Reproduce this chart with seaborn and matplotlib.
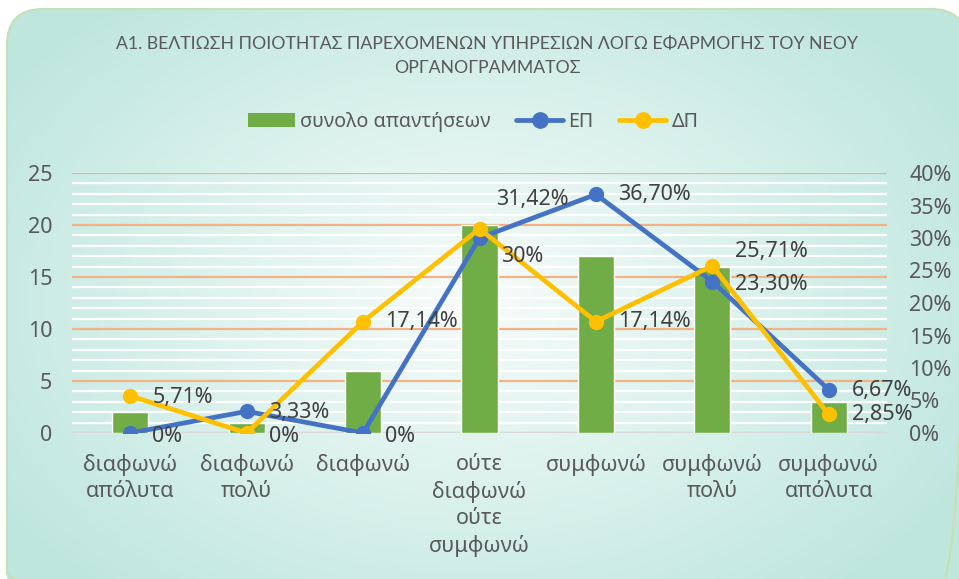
import numpy as np
import pandas as pd
import matplotlib
matplotlib.use("Agg")
import matplotlib.pyplot as plt
import seaborn as sns
from matplotlib.patches import FancyBboxPatch, Patch
from matplotlib.lines import Line2D
from matplotlib.ticker import MultipleLocator, FuncFormatter

# Δεδομένα
categories = [
    "διαφωνώ\nαπόλυτα",
    "διαφωνώ\nπολύ",
    "διαφωνώ",
    "ούτε\nδιαφωνώ\nούτε\nσυμφωνώ",
    "συμφωνώ",
    "συμφωνώ\nπολύ",
    "συμφωνώ\nαπόλυτα",
]
total_answers = [2, 1, 6, 20, 17, 16, 3]
ep_pct = [0, 3.33, 0, 30, 36.70, 23.30, 6.67]
dp_pct = [5.71, 0, 17.14, 31.42, 17.14, 25.71, 2.85]

TITLE = "Α1. ΒΕΛΤΙΩΣΗ ΠΟΙΟΤΗΤΑΣ ΠΑΡΕΧΟΜΕΝΩΝ ΥΠΗΡΕΣΙΩΝ ΛΟΓΩ ΕΦΑΡΜΟΓΗΣ ΤΟΥ ΝΕΟΥ\nΟΡΓΑΝΟΓΡΑΜΜΑΤΟΣ"

BAR_C = "#70AD47"
EP_C = "#4472C4"
DP_C = "#FFC000"
TXT_C = "#595959"
LBL_C = "#404040"
FS = 15.5

sns.set_theme(style="white")
plt.rcParams["font.family"] = ["Noto Sans", "DejaVu Sans"]


def pct_label(v):
    if float(v).is_integer():
        return f"{int(v)}%"
    return f"{v:.2f}".replace(".", ",") + "%"


df = pd.DataFrame({"cat": categories, "total": total_answers,
                   "ep": ep_pct, "dp": dp_pct})
df["pos"] = np.arange(len(df))

fig = plt.figure(figsize=(9.59, 5.79), dpi=100)

# φόντο με διαβάθμιση και στρογγυλεμένο πλαίσιο
bg = fig.add_axes([0, 0, 1, 1])
bg.set_xlim(0, 959)
bg.set_ylim(579, 0)
bg.axis("off")
yy, xx = np.mgrid[0:579, 0:959]
r = np.sqrt(((xx - 470) / 560.0) ** 2 + ((yy - 300) / 380.0) ** 2)
r = np.clip(r, 0, 1)
c_in = np.array([0.97, 0.99, 0.985])
c_out = np.array([0.75, 0.905, 0.87])
grad = c_in[None, None, :] * (1 - r[..., None]) + c_out[None, None, :] * r[..., None]
im = bg.imshow(grad, extent=(0, 959, 579, 0), aspect="auto", zorder=0)
frame = FancyBboxPatch((7, 9), 960, 600, boxstyle="round,pad=0,rounding_size=36",
                       facecolor="none", edgecolor="#C5E0B4", linewidth=1.5, zorder=1)
bg.add_patch(frame)
im.set_clip_path(frame)

ax = fig.add_axes([72 / 959, 1 - 433 / 579, 815 / 959, 260 / 579])
ax.patch.set_alpha(0)
sns.barplot(data=df, x="cat", y="total", color=BAR_C, width=0.31,
            saturation=1, ax=ax, zorder=2)
ax.set_ylim(0, 25)
ax.set_xlim(-0.5, len(df) - 0.5)
ax.yaxis.set_major_locator(MultipleLocator(5))
ax.yaxis.set_minor_locator(MultipleLocator(1))
ax.grid(which="minor", axis="y", color="white", linewidth=1.6, zorder=0)
ax.grid(which="major", axis="y", color="#F4B183", linewidth=1.6, zorder=0)
ax.set_axisbelow(True)
ax.axhline(0, color="#D9D9D9", linewidth=1.5, zorder=1)
ax.set_xlabel("")
ax.set_ylabel("")
for s in ax.spines.values():
    s.set_visible(False)
ax.tick_params(axis="y", which="both", length=0, labelsize=FS, labelcolor=TXT_C, pad=14)
ax.tick_params(axis="x", length=0, labelsize=FS, labelcolor=TXT_C, pad=15)
for t in ax.get_xticklabels():
    t.set_linespacing(1.35)
    t.set_verticalalignment("top")

ax2 = ax.twinx()
sns.lineplot(data=df, x="pos", y="ep", color=EP_C, linewidth=3.4, marker="o",
             markersize=11, markeredgewidth=0, ax=ax2, zorder=3)
sns.lineplot(data=df, x="pos", y="dp", color=DP_C, linewidth=3.4, marker="o",
             markersize=11, markeredgewidth=0, ax=ax2, zorder=4)
ax2.set_ylim(0, 40)
ax2.set_xlim(-0.5, len(df) - 0.5)
ax2.yaxis.set_major_locator(MultipleLocator(5))
ax2.yaxis.set_major_formatter(FuncFormatter(lambda v, p: f"{int(v)}%"))
ax2.set_xlabel("")
ax2.set_ylabel("")
ax2.grid(False)
for s in ax2.spines.values():
    s.set_visible(False)
ax2.tick_params(axis="y", length=0, labelsize=FS, labelcolor=TXT_C, pad=16)

# ετικέτες τιμών (μετατόπιση σε pixel)
ep_off = [(22, -3), (22, -1), (22, -3), (22, -18), (22, 0), (23, -3), (23, -1)]
dp_off = [(22, -2), (22, -3), (22, 0), (17, 29), (22, 0), (23, 14), (23, 0)]
for i, row in df.iterrows():
    ax2.annotate(pct_label(row["ep"]), (row["pos"], row["ep"]), xytext=ep_off[i],
                 textcoords="offset pixels", ha="left", va="center",
                 fontsize=FS, color=LBL_C, zorder=6)
    ax2.annotate(pct_label(row["dp"]), (row["pos"], row["dp"]), xytext=dp_off[i],
                 textcoords="offset pixels", ha="left", va="center",
                 fontsize=FS, color=LBL_C, zorder=6)

fig.text(487 / 959, 1 - 56 / 579, TITLE, ha="center", va="center", fontsize=12.7,
         color=TXT_C, linespacing=1.55, family=["Lato", "DejaVu Sans"])

handles = [
    Patch(facecolor=BAR_C, edgecolor="none"),
    Line2D([0], [0], color=EP_C, linewidth=3.4, marker="o", markersize=11),
    Line2D([0], [0], color=DP_C, linewidth=3.4, marker="o", markersize=11),
]
fig.legend(handles, ["συνολο απαντήσεων", "ΕΠ", "ΔΠ"], loc="center",
           bbox_to_anchor=(473 / 959, 1 - 122 / 579), ncol=3, frameon=False,
           fontsize=14.2, labelcolor=TXT_C, handlelength=2.4, handleheight=0.7,
           columnspacing=1.3, handletextpad=0.25)

fig.savefig("out.png", dpi=100)
